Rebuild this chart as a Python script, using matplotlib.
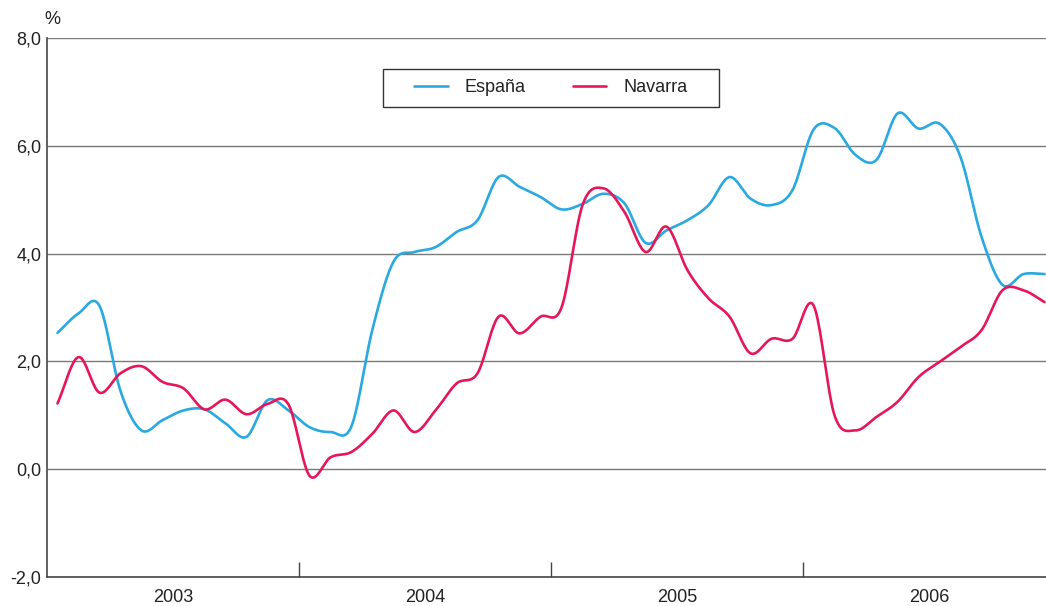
import numpy as np
import matplotlib
matplotlib.use("Agg")
import matplotlib.pyplot as plt
from matplotlib.patches import Rectangle

# ---- data (monthly, Jan 2003 - Dec 2006) ----
years = ["2003", "2004", "2005", "2006"]
espana = [2.53, 2.89, 3.03, 1.45, 0.72, 0.91, 1.09, 1.11, 0.85, 0.60, 1.28, 1.09,
          0.78, 0.69, 0.80, 2.60, 3.85, 4.03, 4.12, 4.40, 4.62, 5.42, 5.24, 5.05,
          4.82, 4.92, 5.11, 4.93, 4.20, 4.43, 4.62, 4.90, 5.42, 5.02, 4.90, 5.18,
          6.30, 6.33, 5.83, 5.74, 6.60, 6.32, 6.41, 5.79, 4.31, 3.42, 3.62, 3.62]
navarra = [1.22, 2.08, 1.42, 1.78, 1.91, 1.62, 1.50, 1.11, 1.29, 1.02, 1.21, 1.20,
           -0.12, 0.22, 0.32, 0.66, 1.09, 0.69, 1.09, 1.59, 1.78, 2.83, 2.52, 2.83,
           3.00, 4.90, 5.21, 4.77, 4.03, 4.50, 3.69, 3.17, 2.83, 2.15, 2.42, 2.42,
           3.04, 1.00, 0.72, 0.97, 1.25, 1.71, 1.99, 2.27, 2.58, 3.32, 3.32, 3.10]
yticks = [-2, 0, 2, 4, 6, 8]
ytick_labels = ["-2,0", "0,0", "2,0", "4,0", "6,0", "8,0"]


def catmull_rom(y, n=20):
    y = np.asarray(y, float)
    p = np.concatenate([[2 * y[0] - y[1]], y, [2 * y[-1] - y[-2]]])
    xs, ys = [], []
    t = np.linspace(0, 1, n, endpoint=False)
    for i in range(len(y) - 1):
        p0, p1, p2, p3 = p[i], p[i + 1], p[i + 2], p[i + 3]
        seg = 0.5 * ((2 * p1) + (-p0 + p2) * t + (2 * p0 - 5 * p1 + 4 * p2 - p3) * t ** 2
                     + (-p0 + 3 * p1 - 3 * p2 + p3) * t ** 3)
        xs.append(i + t)
        ys.append(seg)
    xs.append([len(y) - 1])
    ys.append([y[-1]])
    return np.concatenate(xs), np.concatenate(ys)


plt.rcParams['font.family'] = ['Liberation Sans', 'DejaVu Sans']

W, H = 1046, 606
fig = plt.figure(figsize=(W / 100, H / 100), dpi=100)
ax = fig.add_axes([47 / W, 1 - 577 / H, (1046 - 47) / W, (577 - 38) / H])

blue = "#2aa9e0"
red = "#e5175a"
FS = 13

x1, y1 = catmull_rom(espana)
x2, y2 = catmull_rom(navarra)
ax.plot(x1, y1, color=blue, lw=1.9, label="España", solid_capstyle="round", zorder=3)
ax.plot(x2, y2, color=red, lw=1.9, label="Navarra", solid_capstyle="round", zorder=3)

ax.set_xlim(-0.5, 47.07)
ax.set_ylim(-2, 8)

for v in yticks[1:]:
    ax.axhline(v, color="#7a7a7a", lw=1.0, zorder=1)

ax.set_yticks(yticks)
ax.set_yticklabels(ytick_labels, fontsize=FS, color="#222222")
ax.tick_params(axis="y", length=0, pad=4)

ax.set_xticks([11.5, 23.5, 35.5])
ax.set_xticklabels([])
ax.tick_params(axis="x", direction="in", length=11, width=1.0, color="#444444")
ax.set_xticks([5.5, 17.5, 29.5, 41.5], minor=True)
ax.set_xticklabels(years, minor=True, fontsize=FS, color="#222222")
ax.tick_params(axis="x", which="minor", length=0, pad=9)

for s in ["top", "right"]:
    ax.spines[s].set_visible(False)
ax.spines["left"].set_color("#555555")
ax.spines["left"].set_linewidth(1.3)
ax.spines["bottom"].set_color("#444444")
ax.spines["bottom"].set_linewidth(1.2)

fig.text(52 / W, 1 - 20 / H, "%", fontsize=FS, color="#222222", ha="center", va="center")

# legend frame drawn as a rectangle, entries via legend without frame
box = Rectangle((383 / W, 1 - 107 / H), (719 - 383) / W, (107 - 69) / H,
                transform=fig.transFigure, fill=True, facecolor="white",
                edgecolor="#333333", lw=1.0, zorder=5, clip_on=False)
ax.add_patch(box)
leg = ax.legend(loc="center", bbox_to_anchor=((383 + 719) / 2 / W, 1 - 88 / H),
                bbox_transform=fig.transFigure, ncol=2, frameon=False,
                fontsize=FS, handlelength=1.85, columnspacing=2.6, handletextpad=0.95,
                borderpad=0.2, borderaxespad=0)
leg.set_zorder(6)
for t in leg.get_texts():
    t.set_color("#222222")

fig.savefig("out.png", dpi=100)
